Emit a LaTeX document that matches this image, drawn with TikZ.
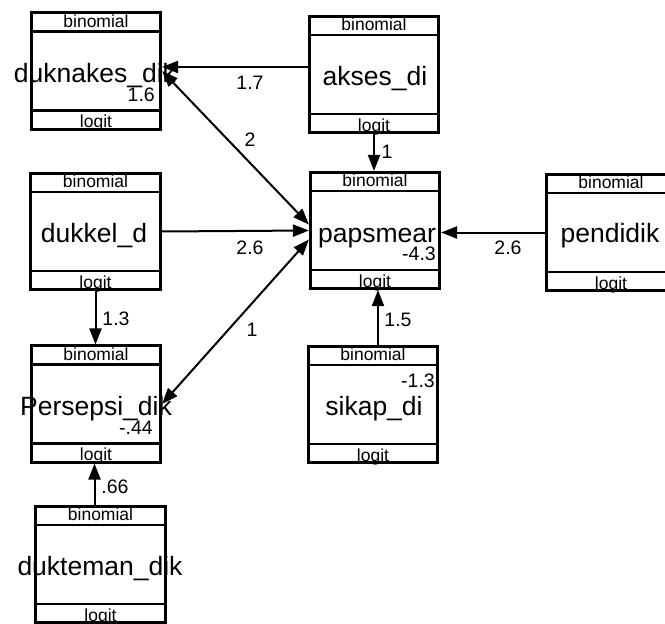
\documentclass[tikz,border=0pt]{standalone}
\usepackage{fontspec}
\setmainfont{Liberation Sans}
\usetikzlibrary{arrows.meta}
\newcommand{\varnode}[2]{%
  \node[vbox] (#1) at (#2) {};
  \draw[sepline] ([yshift=-20pt]#1.north west) -- ([yshift=-20pt]#1.north east);
  \draw[sepline] ([yshift=20pt]#1.south west) -- ([yshift=20pt]#1.south east);
  \node[bandtxt] (#1-top) at ([yshift=-16pt]#1.north) {binomial};
  \node[bandtxt] (#1-bot) at ([yshift=3pt]#1.south) {logit};
}
\begin{document}
\begin{tikzpicture}[x=1pt,y=-1pt,
  vbox/.style={draw, line width=2.6pt, minimum width=129.5pt, minimum height=116.5pt, inner sep=0pt, fill=white},
  sepline/.style={line width=2.6pt},
  bandtxt/.style={font=\fontsize{17.5}{19}\selectfont, inner sep=0pt, anchor=base},
  nametxt/.style={font=\fontsize{26.5}{30}\selectfont, inner sep=0pt, anchor=base},
  valtxt/.style={font=\fontsize{19.5}{22}\selectfont, inner sep=0pt, anchor=base east},
  elabel/.style={font=\fontsize{19.5}{22}\selectfont, inner sep=0pt},
  conn/.style={line width=2pt, -{Triangle[length=16pt,width=12pt]}},
  bconn/.style={line width=2pt, {Triangle[length=16pt,width=12pt]}-{Triangle[length=16pt,width=12pt]}}
]
\useasboundingbox (0,0) rectangle (665,624);
\clip (0,0) rectangle (665,624);
\fill[white] (0,0) rectangle (665,624);

\varnode{duknakes}{96,71}
\varnode{akses}{374,74.5}
\varnode{dukkel}{95.5,231.5}
\varnode{papsmear}{375,230.5}
\varnode{pendidik}{611,232.5}
\varnode{persepsi}{96,404}
\varnode{sikap}{373,404.5}
\varnode{dukteman}{100.5,564.5}

\node[nametxt] (duknakes-n) at (95,82) {duknakes\_dik};
\node[valtxt] (duknakes-v) at (155,101) {1.6};
\node[nametxt] (akses-n) at (375,85) {akses\_di};
\node[nametxt] (dukkel-n) at (94,242) {dukkel\_d};
\node[nametxt] (papsmear-n) at (377,242) {papsmear};
\node[valtxt] (papsmear-v) at (436,260) {-4.3};
\node[nametxt] (pendidik-n) at (610,242) {pendidik};
\node[nametxt] (persepsi-n) at (96,415) {Persepsi\_dik};
\node[valtxt] (persepsi-v) at (153,434) {-.44};
\node[nametxt] (sikap-n) at (374,415) {sikap\_di};
\node[valtxt] (sikap-v) at (435,387) {-1.3};
\node[nametxt] (dukteman-n) at (100,575) {dukteman\_dik};

\draw[conn] ([yshift=7.5pt]akses.west) -- ([yshift=7.5pt]akses.west -| duknakes.east);
\draw[bconn] (duknakes.east) -- ([yshift=6pt]papsmear.west);
\draw[conn] (dukkel.east) -- (papsmear.west);
\draw[bconn] (persepsi.east) -- ([yshift=-9pt]papsmear.west);
\draw[conn] (pendidik.west) -- (pendidik.west -| papsmear.east);
\draw[conn] (akses.south) -- (akses.south |- papsmear.north);
\draw[conn] ([xshift=5pt]sikap.north) -- ([xshift=5pt]sikap.north |- papsmear.south);
\draw[conn] (dukkel.south) -- (dukkel.south |- persepsi.north);
\draw[conn] ([xshift=-6pt]dukteman.north) -- ([xshift=-6pt]dukteman.north |- persepsi.south);

\node[elabel] (l1) at (250,83) {1.7};
\node[elabel] (l2) at (250,140) {2};
\node[elabel] (l3) at (250,248) {2.6};
\node[elabel] (l4) at (252,330) {1};
\node[elabel] (l5) at (508,248) {2.6};
\node[elabel] (l6) at (387,152) {1};
\node[elabel] (l7) at (398,320) {1.5};
\node[elabel] (l8) at (116,319) {1.3};
\node[elabel] (l9) at (115,487) {.66};
\end{tikzpicture}
\end{document}
